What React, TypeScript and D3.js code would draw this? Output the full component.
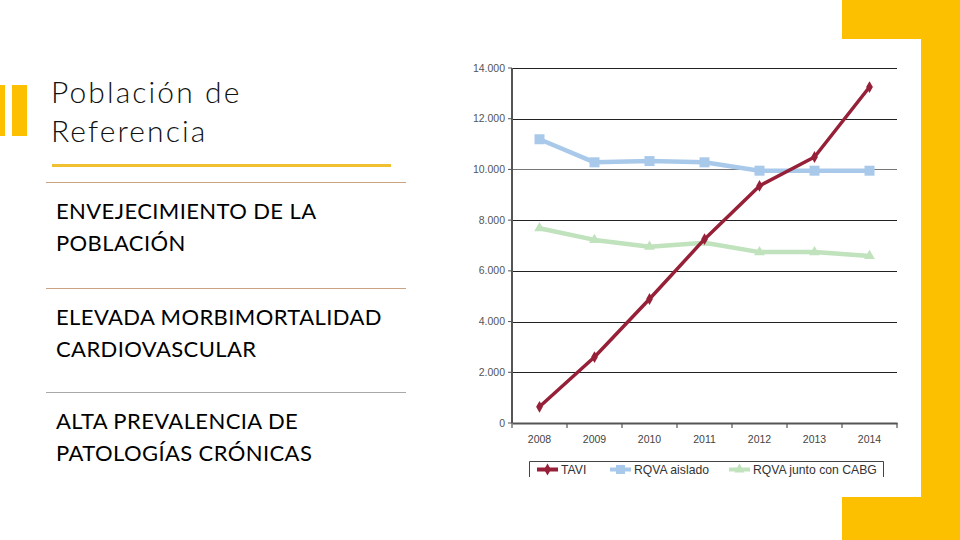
import React, { useRef, useEffect } from 'react';
import * as d3 from 'd3';

const years = ['2008', '2009', '2010', '2011', '2012', '2013', '2014'];
const tavi = [640, 2600, 4890, 7250, 9350, 10490, 13250];
const rqvaAislado = [11190, 10280, 10330, 10280, 9950, 9950, 9950];
const rqvaCabg = [7680, 7220, 6950, 7110, 6740, 6740, 6590];
const yTicks = [0, 2000, 4000, 6000, 8000, 10000, 12000, 14000];

const seriesNames = ['TAVI', 'RQVA aislado', 'RQVA junto con CABG'];
const seriesColors = ['#962038', '#a9c9ea', '#c0e2bd'];

const bullets = [
  ['ENVEJECIMIENTO DE LA', 'POBLACIÓN'],
  ['ELEVADA MORBIMORTALIDAD', 'CARDIOVASCULAR'],
  ['ALTA PREVALENCIA DE', 'PATOLOGÍAS CRÓNICAS'],
];

const App = () => {
  const svgRef = useRef<SVGSVGElement>(null);

  useEffect(() => {
    const svg = d3.select(svgRef.current);
    svg.selectAll('*').remove();

    // slide decoration
    svg.append('rect').attr('x', 842).attr('y', 0).attr('width', 118).attr('height', 540).attr('fill', '#fdc000');
    svg.append('rect').attr('x', 446).attr('y', 39).attr('width', 475).attr('height', 458).attr('fill', '#fff');
    svg.append('rect').attr('x', 0).attr('y', 85).attr('width', 5).attr('height', 51).attr('fill', '#fdc000');
    svg.append('rect').attr('x', 12).attr('y', 85).attr('width', 15).attr('height', 51).attr('fill', '#fdc000');

    const title = svg.append('text')
      .attr('font-family', 'Lato')
      .attr('font-weight', 300)
      .attr('font-size', 30)
      .attr('letter-spacing', 2.1)
      .attr('fill', '#111');
    title.append('tspan').attr('x', 51).attr('y', 103).text('Población de');
    title.append('tspan').attr('x', 51).attr('y', 142).text('Referencia');

    svg.append('line').attr('x1', 52).attr('x2', 391).attr('y1', 165.5).attr('y2', 165.5)
      .attr('stroke', '#f0c030').attr('stroke-width', 3);

    const sepY = [182.5, 288.5, 392.5];
    const sepColors = ['#caa482', '#caa482', '#a8a8a8'];
    sepY.forEach((y, i) => {
      svg.append('line').attr('x1', 46).attr('x2', 406).attr('y1', y).attr('y2', y)
        .attr('stroke', sepColors[i]).attr('stroke-width', 1);
    });

    bullets.forEach((lines, i) => {
      const t = svg.append('text')
        .attr('font-family', 'Lato')
        .attr('font-size', 22)
        .attr('letter-spacing', 0.4)
        .attr('fill', '#000');
      lines.forEach((l, j) => {
        t.append('tspan').attr('x', 56).attr('y', sepY[i] + 36 + j * 32).text(l);
      });
    });

    // chart
    const left = 512;
    const right = 897;
    const top = 68;
    const bottom = 423;

    const x = d3.scaleBand().domain(years).range([left, right]);
    const y = d3.scaleLinear().domain([0, 14000]).range([bottom, top]);
    const fmt = (v: number) => d3.format(',')(v).replace(/,/g, '.');

    const g = svg.append('g').attr('font-family', 'Liberation Sans, Arial, sans-serif');

    g.selectAll('.grid')
      .data(yTicks.filter(d => d > 0))
      .enter()
      .append('line')
      .attr('x1', left)
      .attr('x2', right)
      .attr('y1', d => Math.round(y(d)) + 0.5)
      .attr('y2', d => Math.round(y(d)) + 0.5)
      .attr('stroke', d => (d === 10000 ? '#777' : '#222'))
      .attr('stroke-width', 1);

    g.selectAll('.ylab')
      .data(yTicks)
      .enter()
      .append('text')
      .attr('x', 505)
      .attr('y', d => y(d) + 3.5)
      .attr('text-anchor', 'end')
      .attr('font-size', 10.5)
      .attr('fill', '#555')
      .text(d => fmt(d));

    // y axis line and ticks
    g.append('line').attr('x1', left).attr('x2', left).attr('y1', top).attr('y2', bottom)
      .attr('stroke', '#555').attr('stroke-width', 2);
    g.selectAll('.ytick').data(yTicks).enter().append('line')
      .attr('x1', left - 4).attr('x2', left).attr('y1', d => y(d)).attr('y2', d => y(d))
      .attr('stroke', '#555');

    // x axis
    const xAxis = g.append('g')
      .attr('transform', `translate(0,${bottom})`)
      .call(d3.axisBottom(x).tickSize(0).tickPadding(13));
    xAxis.select('.domain').attr('stroke', '#555').attr('stroke-width', 2);
    xAxis.selectAll('text').attr('font-size', 10.5).attr('fill', '#444').attr('font-family', 'Liberation Sans, Arial, sans-serif');
    const bounds = years.map(d => x(d) as number).concat([right]);
    xAxis.selectAll('.xt').data(bounds).enter().append('line')
      .attr('x1', d => d).attr('x2', d => d).attr('y1', 0).attr('y2', 5)
      .attr('stroke', '#555').attr('stroke-width', 1.2);

    const cx = (d: string) => (x(d) as number) + x.bandwidth() / 2;
    const line = d3.line<number>().x((_, i) => cx(years[i])).y(d => y(d));

    const allSeries = [tavi, rqvaAislado, rqvaCabg];
    const drawOrder = [2, 1, 0];
    drawOrder.forEach(si => {
      const data = allSeries[si];
      const color = seriesColors[si];
      g.append('path')
        .datum(data)
        .attr('d', line)
        .attr('fill', 'none')
        .attr('stroke', color)
        .attr('stroke-width', si === 0 ? 3.5 : 4.5)
        .attr('stroke-linejoin', 'round');
      const marks = g.selectAll(`.m${si}`).data(data).enter();
      if (si === 0) {
        marks.append('path')
          .attr('d', d3.symbol(d3.symbolDiamond, 40)())
          .attr('transform', (d, i) => `translate(${cx(years[i])},${y(d)})`)
          .attr('fill', color);
      } else if (si === 1) {
        marks.append('rect')
          .attr('x', (d, i) => cx(years[i]) - 5)
          .attr('y', d => y(d) - 5)
          .attr('width', 10)
          .attr('height', 10)
          .attr('fill', color);
      } else {
        marks.append('path')
          .attr('d', d3.symbol(d3.symbolTriangle, 50)())
          .attr('transform', (d, i) => `translate(${cx(years[i])},${y(d)})`)
          .attr('fill', color);
      }
    });

    // legend (cut off at the bottom like the source image)
    const lg = g.append('g');
    lg.append('path')
      .attr('d', 'M529.5,477 V461.5 H883.5 V477')
      .attr('fill', 'none')
      .attr('stroke', '#444')
      .attr('stroke-width', 1);
    const legX = [537, 610, 729];
    seriesNames.forEach((name, i) => {
      lg.append('line')
        .attr('x1', legX[i]).attr('x2', legX[i] + 21)
        .attr('y1', 469.5).attr('y2', 469.5)
        .attr('stroke', seriesColors[i]).attr('stroke-width', 4);
      if (i === 0) {
        lg.append('path').attr('d', d3.symbol(d3.symbolDiamond, 40)())
          .attr('transform', `translate(${legX[i] + 10.5},469.5)`).attr('fill', seriesColors[i]);
      } else if (i === 1) {
        lg.append('rect').attr('x', legX[i] + 6).attr('y', 465).attr('width', 9).attr('height', 9).attr('fill', seriesColors[i]);
      } else {
        lg.append('path').attr('d', d3.symbol(d3.symbolTriangle, 45)())
          .attr('transform', `translate(${legX[i] + 10.5},469.5)`).attr('fill', seriesColors[i]);
      }
      lg.append('text')
        .attr('x', legX[i] + 24)
        .attr('y', 474)
        .attr('font-size', 12.2)
        .attr('fill', '#333')
        .text(name);
    });
    // mask below legend cut
    svg.append('rect').attr('x', 446).attr('y', 477).attr('width', 396).attr('height', 20).attr('fill', '#fff');
  }, []);

  return (
    <svg ref={svgRef} width={960} height={540} style={{ position: 'absolute', left: 0, top: 0 }} />
  );
};

export default App;
